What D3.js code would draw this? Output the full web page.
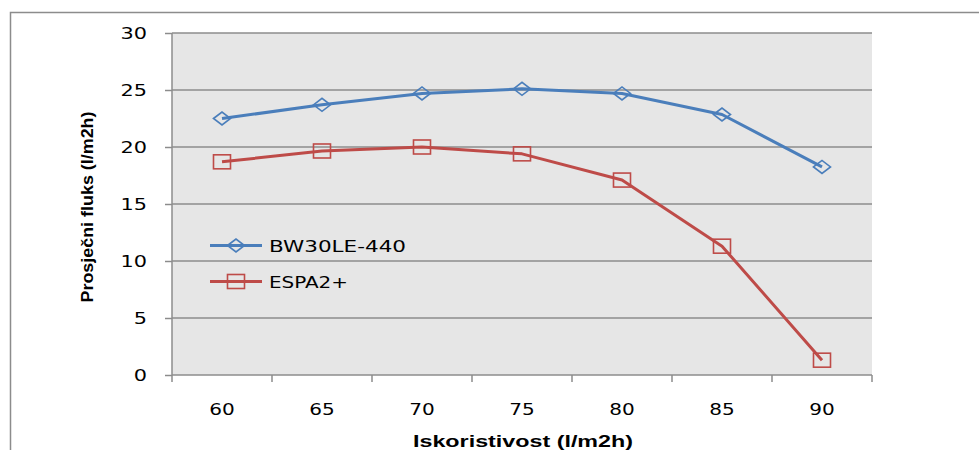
<!DOCTYPE html>
<html><head><meta charset="utf-8">
<script src="https://cdn.jsdelivr.net/npm/d3@7"></script>
<style>body{margin:0;background:#fff}svg{display:block}</style>
</head><body><svg id="c" width="979" height="450"></svg>
<script>
const categories = ["60","65","70","75","80","85","90"];
const bw30le = [22.5,23.7,24.7,25.1,24.7,22.85,18.25];
const espa2 = [18.7,19.65,20.0,19.4,17.1,11.3,1.3];
const yTicks = [0,5,10,15,20,25,30];
const seriesNames = ["BW30LE-440","ESPA2+"];
const colors = ["#4a7ebb","#be4b48"];

const svg = d3.select("#c");
const L=172,R=872,T=33,B=375;
const FONT = "DejaVu Sans, Verdana, sans-serif";
const x = d3.scaleBand().domain(categories).range([L,R]).paddingInner(0).paddingOuter(0);
const y = d3.scaleLinear().domain([0,30]).range([B,T]);

function stretch(sel, f){
  sel.each(function(){
    const w = this.getComputedTextLength();
    d3.select(this).attr("textLength", w*f).attr("lengthAdjust","spacingAndGlyphs");
  });
}

// outer border
svg.append("rect").attr("x",10.5).attr("y",12.5).attr("width",1000).attr("height",500)
  .attr("fill","none").attr("stroke","#8c8c8c").attr("stroke-width",1.5);

// plot bg
svg.append("rect").attr("x",L).attr("y",T).attr("width",R-L).attr("height",B-T).attr("fill","#e6e6e6");

// grid + y axis
const gy = svg.append("g").attr("transform",`translate(${L},0)`)
  .call(d3.axisLeft(y).tickValues(yTicks).tickSize(7).tickPadding(18));
gy.select(".domain").remove();
gy.selectAll(".tick line").attr("stroke","#8c8c8c").attr("stroke-width",1.5);
gy.selectAll(".tick text").attr("font-family",FONT).attr("font-size",16).attr("fill","#000").attr("dy","0.36em");
stretch(gy.selectAll(".tick text"),1.3);
svg.append("g").selectAll("line").data(yTicks.filter(d=>d>0)).join("line")
  .attr("x1",L).attr("x2",R).attr("y1",d=>y(d)).attr("y2",d=>y(d))
  .attr("stroke","#8c8c8c").attr("stroke-width",1.5);
svg.append("line").attr("x1",L).attr("x2",L).attr("y1",T).attr("y2",B).attr("stroke","#8c8c8c").attr("stroke-width",1.5);

// x axis
const gx = svg.append("g").attr("transform",`translate(0,${B})`)
  .call(d3.axisBottom(x).tickSize(0).tickPadding(29));
gx.select(".domain").remove();
gx.selectAll(".tick text").attr("font-family",FONT).attr("font-size",16).attr("fill","#000");
stretch(gx.selectAll(".tick text"),1.25);
const bounds = categories.map(c=>x(c)).concat([R]);
svg.append("g").selectAll("line").data(bounds).join("line")
  .attr("x1",d=>d).attr("x2",d=>d).attr("y1",B).attr("y2",B+7)
  .attr("stroke","#8c8c8c").attr("stroke-width",1.5);
svg.append("line").attr("x1",L).attr("x2",R).attr("y1",B).attr("y2",B).attr("stroke","#8c8c8c").attr("stroke-width",1.5);

// axis titles
svg.append("text").attr("transform","translate(92.5,207) rotate(-90)")
  .attr("text-anchor","middle").attr("font-family","Liberation Sans, Arial, sans-serif")
  .attr("font-weight","bold").attr("font-size",16.5).attr("textLength",191).attr("lengthAdjust","spacingAndGlyphs")
  .text("Prosječni fluks (l/m2h)");
svg.append("text").attr("x",523).attr("y",446.5).attr("text-anchor","middle")
  .attr("font-family","Liberation Sans, Arial, sans-serif").attr("font-weight","bold").attr("font-size",16.5)
  .attr("textLength",220).attr("lengthAdjust","spacingAndGlyphs")
  .text("Iskoristivost (l/m2h)");

// lines
const cx = c => x(c)+x.bandwidth()/2;
const line = d3.line().x((d,i)=>cx(categories[i])).y(d=>y(d));
const data = [bw30le, espa2];
data.forEach((vals,k)=>{
  svg.append("path").datum(vals).attr("d",line).attr("fill","none")
    .attr("stroke",colors[k]).attr("stroke-width",3).attr("stroke-linejoin","round");
});
// markers
function diamond(g,px,py,col){
  g.append("path").attr("d",`M${px-8.5},${py}L${px},${py-6.5}L${px+8.5},${py}L${px},${py+6.5}Z`)
   .attr("fill","none").attr("stroke",col).attr("stroke-width",1.6);
}
function square(g,px,py,col){
  g.append("rect").attr("x",px-8.5).attr("y",py-7).attr("width",17).attr("height",14)
   .attr("fill","none").attr("stroke",col).attr("stroke-width",1.6);
}
const mg = svg.append("g");
bw30le.forEach((v,i)=>diamond(mg,cx(categories[i]),y(v),colors[0]));
espa2.forEach((v,i)=>square(mg,cx(categories[i]),y(v),colors[1]));

// legend
const legY=[245.5,281.5];
const legLen=[137,79];
seriesNames.forEach((n,k)=>{
  svg.append("line").attr("x1",210).attr("x2",262).attr("y1",legY[k]).attr("y2",legY[k])
    .attr("stroke",colors[k]).attr("stroke-width",3);
  if(k===0) diamond(svg,236,legY[k],colors[k]); else square(svg,236,legY[k],colors[k]);
  svg.append("text").attr("x",269).attr("y",legY[k]+6).attr("font-family",FONT)
    .attr("font-size",16).attr("textLength",legLen[k]).attr("lengthAdjust","spacingAndGlyphs").text(n);
});
</script></body></html>
